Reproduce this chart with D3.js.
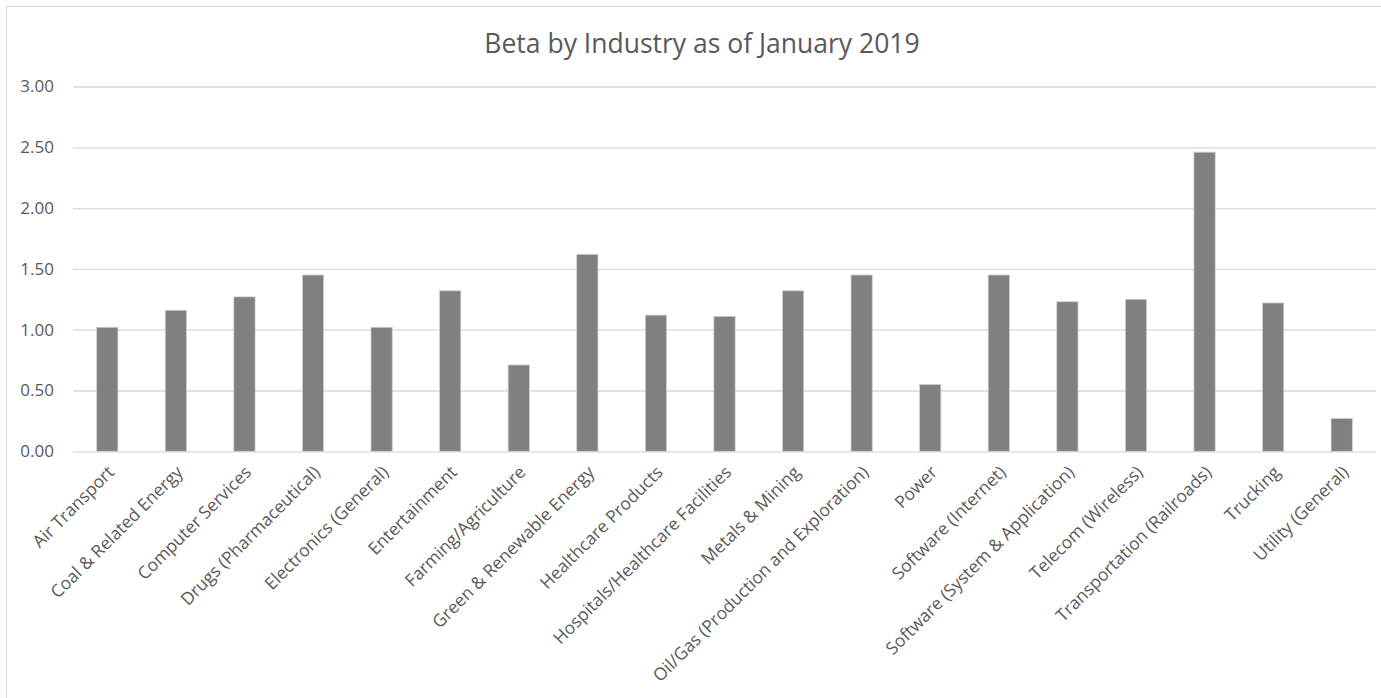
<!DOCTYPE html>
<html>
<head>
<meta charset="utf-8">
<script src="https://cdn.jsdelivr.net/npm/d3@7"></script>
<style>
  html, body { margin: 0; padding: 0; background: #ffffff; overflow: hidden; }
  text { font-family: "Open Sans", sans-serif; }
</style>
</head>
<body>
<div id="chart"></div>
<script>
// Dados
var industries = [
    "Air Transport", "Coal & Related Energy", "Computer Services", "Drugs (Pharmaceutical)",
    "Electronics (General)", "Entertainment", "Farming/Agriculture", "Green & Renewable Energy",
    "Healthcare Products", "Hospitals/Healthcare Facilities", "Metals & Mining",
    "Oil/Gas (Production and Exploration)", "Power", "Software (Internet)",
    "Software (System & Application)", "Telecom (Wireless)", "Transportation (Railroads)",
    "Trucking", "Utility (General)"
];
var betas = [1.02, 1.16, 1.27, 1.45, 1.02, 1.32, 0.71, 1.62, 1.12, 1.11, 1.32, 1.45, 0.55, 1.45, 1.23, 1.25, 2.46, 1.22, 0.27];
var yTicks = [0, 0.5, 1, 1.5, 2, 2.5, 3];
var chartTitle = "Beta by Industry as of January 2019";

var W = 1381, H = 698;
var margin = { top: 86.5, right: 5, bottom: 246.7, left: 73 };

var svg = d3.select("#chart").append("svg")
    .attr("width", W)
    .attr("height", H);

// moldura do gráfico (só aparecem as bordas de cima e da esquerda)
svg.append("rect")
    .attr("x", 6.5).attr("y", 6.5)
    .attr("width", W + 20).attr("height", H + 20)
    .style("fill", "#ffffff")
    .style("stroke", "#d9d9d9")
    .style("stroke-width", 1);

var x = d3.scaleBand()
    .domain(industries)
    .range([margin.left, W - margin.right])
    .paddingInner(0.69)
    .paddingOuter(0.345);

var y = d3.scaleLinear()
    .domain([0, 3])
    .range([H - margin.bottom, margin.top]);

// título
svg.append("text")
    .attr("x", 702)
    .attr("y", 53)
    .attr("text-anchor", "middle")
    .style("font-size", "26.5px")
    .style("fill", "#595959")
    .text(chartTitle);

// linhas de grade + rótulos do eixo y
var yAxis = svg.append("g")
    .attr("transform", `translate(${margin.left},0)`)
    .call(d3.axisLeft(y).tickValues(yTicks).tickFormat(d3.format(".2f"))
        .tickSize(-(W - margin.left - margin.right)).tickPadding(19));
yAxis.select(".domain").remove();
yAxis.selectAll(".tick line").style("stroke", "#d9d9d9").style("stroke-width", 1.3);
yAxis.selectAll(".tick text")
    .style("font-size", "17px")
    .style("fill", "#595959");

// barras
svg.append("g").selectAll("rect")
    .data(betas)
    .enter().append("rect")
    .attr("x", (d, i) => x(industries[i]))
    .attr("y", d => y(d))
    .attr("width", x.bandwidth())
    .attr("height", d => y(0) - y(d))
    .style("fill", "#808080")
    .style("stroke", "#d0d0d0")
    .style("stroke-width", 0.8);

// rótulos do eixo x, girados 45°
var xAxis = svg.append("g")
    .attr("transform", `translate(0,${y(0)})`)
    .call(d3.axisBottom(x).tickSize(0).tickPadding(0));
xAxis.select(".domain").remove();
xAxis.selectAll(".tick text")
    .attr("text-anchor", "end")
    .attr("dy", null)
    .attr("y", 0)
    .attr("transform", "translate(8,22) rotate(-45)")
    .style("font-size", "17.4px")
    .style("fill", "#595959");
</script>
</body>
</html>
